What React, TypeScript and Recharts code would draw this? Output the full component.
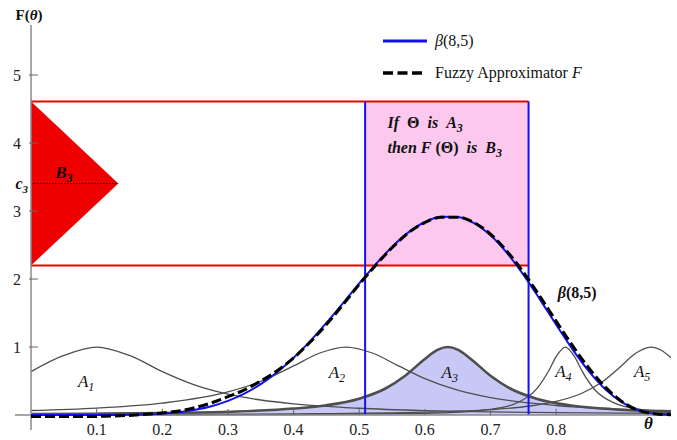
import {
  Area,
  ComposedChart,
  Legend,
  Line,
  ReferenceArea,
  ReferenceDot,
  ReferenceLine,
  XAxis,
  YAxis,
} from "recharts";

const serif = '"Liberation Serif", "Times New Roman", serif';
const blue = "#1212ee";
const red = "#ee0000";
const gray = "#4e4e4e";

// θ grid shared by the density and its fuzzy approximation
const thetaGrid = [
  0, 0.025, 0.05, 0.075, 0.1, 0.125, 0.15, 0.175, 0.2, 0.225, 0.25, 0.275, 0.3, 0.325,
  0.35, 0.375, 0.4, 0.425, 0.45, 0.475, 0.5, 0.525, 0.55, 0.575, 0.6, 0.625, 0.65, 0.675,
  0.7, 0.725, 0.75, 0.775, 0.8, 0.825, 0.85, 0.875, 0.9, 0.925, 0.95, 0.975,
];
const betaPdf = [
  0, 0, 0, 0, 0.0003, 0.001, 0.0035, 0.0092, 0.0208, 0.0417, 0.0765, 0.13, 0.208, 0.315,
  0.455, 0.63, 0.841, 1.084, 1.354, 1.641, 1.934, 2.216, 2.472, 2.686, 2.838, 2.917, 2.913,
  2.822, 2.642, 2.384, 2.065, 1.705, 1.329, 0.966, 0.643, 0.38, 0.189, 0.073, 0.017, 0.001,
];
const fuzzyF = [
  -0.02, -0.02, -0.02, -0.02, -0.02, -0.015, -0.005, 0.01, 0.03, 0.06, 0.11, 0.18, 0.27,
  0.37, 0.5, 0.65, 0.84, 1.07, 1.33, 1.62, 1.92, 2.2, 2.46, 2.68, 2.83, 2.91, 2.91, 2.83,
  2.66, 2.41, 2.1, 1.75, 1.38, 1.02, 0.69, 0.41, 0.2, 0.07, 0.02, 0.005,
];

// membership functions A1..A5
const a1X = [0, 0.05, 0.1, 0.15, 0.2, 0.25, 0.3, 0.35, 0.4, 0.5, 0.6, 0.7, 0.8, 0.9, 0.975];
const a1Y = [0.639, 0.876, 1, 0.876, 0.639, 0.44, 0.307, 0.221, 0.164, 0.1, 0.066, 0.047, 0.035, 0.027, 0.023];

const a2X = [0, 0.1, 0.2, 0.3, 0.35, 0.4, 0.44, 0.48, 0.52, 0.56, 0.6, 0.65, 0.7, 0.8, 0.9, 0.975];
const a2Y = [0.067, 0.103, 0.175, 0.339, 0.496, 0.722, 0.912, 1, 0.912, 0.722, 0.536, 0.365, 0.256, 0.14, 0.086, 0.064];

const a3X = [0, 0.1, 0.2, 0.3, 0.4, 0.45, 0.5, 0.54, 0.57, 0.6, 0.62, 0.635, 0.65, 0.67, 0.7, 0.73, 0.77, 0.82, 0.87, 0.93, 0.975];
const a3Y = [0.014, 0.02, 0.03, 0.049, 0.095, 0.144, 0.241, 0.39, 0.578, 0.825, 0.962, 1, 0.962, 0.825, 0.578, 0.39, 0.241, 0.144, 0.095, 0.062, 0.048];

const a4X = [0, 0.2, 0.4, 0.6, 0.7, 0.74, 0.77, 0.79, 0.8, 0.814, 0.828, 0.84, 0.86, 0.89, 0.93, 0.975];
const a4Y = [0.002, 0.003, 0.007, 0.025, 0.084, 0.178, 0.381, 0.674, 0.859, 1, 0.859, 0.638, 0.36, 0.171, 0.081, 0.044];

const a5X = [0, 0.2, 0.4, 0.6, 0.7, 0.76, 0.8, 0.84, 0.87, 0.9, 0.92, 0.944, 0.96, 0.975];
const a5Y = [0.006, 0.009, 0.017, 0.042, 0.08, 0.133, 0.2, 0.324, 0.486, 0.728, 0.9, 1, 0.953, 0.844];

const xTicks = [0.1, 0.2, 0.3, 0.4, 0.5, 0.6, 0.7, 0.8];
const yTicks = [1, 2, 3, 4, 5];
const c3 = 3.405;
const bBand = [2.2, 4.61]; // B3 support on F axis
const aBand = [0.509, 0.758]; // A3 band on θ axis
const b3Tip = 0.133;

const pts = (xs: number[], ys: number[]) => xs.map((x, i) => ({ x, y: ys[i] }));

const triangle = [
  { x: 0, y: [bBand[0], bBand[1]] },
  { x: b3Tip, y: [c3, c3] },
];

function YTick({ x, y, payload }: any) {
  if (payload.value === c3) {
    return (
      <text x={x + 7} y={y} dy="0.35em" textAnchor="end" fontFamily={serif} fontSize={16}
        fontWeight="bold" fontStyle="italic" fill="#111">
        c<tspan fontSize={11} dy={4}>3</tspan>
      </text>
    );
  }
  return (
    <text x={x} y={y} dy="0.35em" textAnchor="end" fontFamily={serif} fontSize={16} fill="#222">
      {payload.value}
    </text>
  );
}

const sub = (s: string) => (
  <tspan fontSize={12} dy={4} fontStyle="italic">{s}</tspan>
);

const notes = [
  { x: 0.084, y: 0.41, anchor: "middle", weight: "normal", size: 17, body: <><tspan fontStyle="italic">A</tspan>{sub("1")}</> },
  { x: 0.466, y: 0.545, anchor: "middle", weight: "normal", size: 17, body: <><tspan fontStyle="italic">A</tspan>{sub("2")}</> },
  { x: 0.638, y: 0.545, anchor: "middle", weight: "normal", size: 17, body: <><tspan fontStyle="italic">A</tspan>{sub("3")}</> },
  { x: 0.811, y: 0.56, anchor: "middle", weight: "normal", size: 17, body: <><tspan fontStyle="italic">A</tspan>{sub("4")}</> },
  { x: 0.931, y: 0.56, anchor: "middle", weight: "normal", size: 17, body: <><tspan fontStyle="italic">A</tspan>{sub("5")}</> },
  { x: 0.05, y: 3.485, anchor: "middle", weight: "bold", size: 17, body: <><tspan fontStyle="italic">B</tspan>{sub("3")}</> },
  { x: 0.832, y: 1.72, anchor: "middle", weight: "bold", size: 16, body: <><tspan fontStyle="italic">β</tspan>(8,5)</> },
  { x: 0.9405, y: -0.206, anchor: "middle", weight: "bold", size: 17, body: <tspan fontStyle="italic">θ</tspan> },
  { x: -0.003, y: 5.81, anchor: "middle", weight: "bold", size: 15, body: <>F(<tspan fontStyle="italic">θ</tspan>)</> },
  { x: 0.543, y: 4.22, anchor: "start", weight: "bold", size: 16, body: <><tspan fontStyle="italic">If</tspan>  Θ  <tspan fontStyle="italic">is</tspan>  <tspan fontStyle="italic">A</tspan>{sub("3")}</> },
  { x: 0.543, y: 3.853, anchor: "start", weight: "bold", size: 16, body: <><tspan fontStyle="italic">then</tspan> <tspan fontStyle="italic">F</tspan> (Θ)  <tspan fontStyle="italic">is</tspan>  <tspan fontStyle="italic">B</tspan>{sub("3")}</> },
];

function LegendBox() {
  return (
    <div style={{ fontFamily: serif, fontSize: 16, color: "#111" }}>
      <div style={{ display: "flex", alignItems: "center", height: 22 }}>
        <svg width={44} height={6}>
          <line x1={0} x2={44} y1={3} y2={3} stroke={blue} strokeWidth={3} />
        </svg>
        <span style={{ marginLeft: 8 }}>
          <i>β</i>(8,5)
        </span>
      </div>
      <div style={{ display: "flex", alignItems: "center", height: 22, marginTop: 10 }}>
        <svg width={44} height={6}>
          <line x1={0} x2={40} y1={3} y2={3} stroke="#000" strokeWidth={3.5} strokeDasharray="10 4.5" />
        </svg>
        <span style={{ marginLeft: 8 }}>
          Fuzzy Approximator <i>F</i>
        </span>
      </div>
    </div>
  );
}

export default function App() {
  return (
    <div style={{ position: "absolute", left: 0, top: 0, width: 677, height: 440, background: "#fff" }}>
      <ComposedChart width={677} height={440} margin={{ top: 25, right: 6, bottom: 0, left: 0 }}>
        <XAxis
          type="number"
          dataKey="x"
          domain={[-0.0244, 0.975]}
          allowDataOverflow
          ticks={xTicks}
          interval={0}
          tickFormatter={(v: number) => v.toFixed(1)}
          axisLine={false}
          tickLine={false}
          tickSize={0}
          tickMargin={-6}
          height={10}
          tick={{ fontFamily: serif, fontSize: 16, fill: "#222" }}
        />
        <YAxis
          type="number"
          domain={[-0.22, 5.735]}
          allowDataOverflow
          ticks={[...yTicks, c3]}
          interval={0}
          axisLine={false}
          tickLine={false}
          tickSize={0}
          tickMargin={-6}
          width={15}
          tick={<YTick />}
        />

        <ReferenceArea x1={aBand[0]} x2={aBand[1]} y1={bBand[0]} y2={bBand[1]} fill="#fcc8ee" fillOpacity={1} stroke="none" />

        <Area data={pts(a3X, a3Y)} dataKey="y" type="monotone" baseValue={0} stroke={gray} strokeWidth={2.6}
          fill="#c8c8f6" fillOpacity={1} isAnimationActive={false} />
        <Line data={pts(a1X, a1Y)} dataKey="y" type="monotone" stroke={gray} strokeWidth={1.3} dot={false} isAnimationActive={false} />
        <Line data={pts(a2X, a2Y)} dataKey="y" type="monotone" stroke={gray} strokeWidth={1.3} dot={false} isAnimationActive={false} />
        <Line data={pts(a4X, a4Y)} dataKey="y" type="monotone" stroke={gray} strokeWidth={1.3} dot={false} isAnimationActive={false} />
        <Line data={pts(a5X, a5Y)} dataKey="y" type="monotone" stroke={gray} strokeWidth={1.3} dot={false} isAnimationActive={false} />

        <Area data={triangle} dataKey="y" type="linear" stroke="none" fill={red} fillOpacity={1} isAnimationActive={false} />
        <ReferenceLine segment={[{ x: 0, y: c3 }, { x: b3Tip, y: c3 }]} stroke="#000" strokeWidth={1} strokeDasharray="1.5 1.5" />

        <ReferenceLine segment={[{ x: 0, y: bBand[1] }, { x: aBand[1], y: bBand[1] }]} stroke={red} strokeWidth={2} />
        <ReferenceLine segment={[{ x: 0, y: bBand[0] }, { x: aBand[1], y: bBand[0] }]} stroke={red} strokeWidth={2} />
        {aBand.map((v) => (
          <ReferenceLine key={v} segment={[{ x: v, y: 0 }, { x: v, y: bBand[1] }]} stroke={blue} strokeWidth={2} />
        ))}

        {/* axes through the origin */}
        <ReferenceLine segment={[{ x: 0, y: -0.22 }, { x: 0, y: 5.735 }]} stroke="#8a8a8a" strokeWidth={1.5} />
        <ReferenceLine y={0} stroke="#8a8a8a" strokeWidth={1.5} />
        {xTicks.map((v) => (
          <ReferenceLine key={"xt" + v} segment={[{ x: v, y: 0 }, { x: v, y: 0.09 }]} stroke="#666" strokeWidth={1} />
        ))}
        {yTicks.map((v) => (
          <ReferenceLine key={"yt" + v} segment={[{ x: -0.003, y: v }, { x: 0.0105, y: v }]} stroke="#666" strokeWidth={1} />
        ))}

        <Line data={pts(thetaGrid, betaPdf)} dataKey="y" type="monotone" stroke={blue} strokeWidth={2} dot={false} isAnimationActive={false} />
        <Line data={pts(thetaGrid, fuzzyF)} dataKey="y" type="monotone" stroke="#000" strokeWidth={3} strokeDasharray="10 4"
          dot={false} isAnimationActive={false} />

        {notes.map((n, i) => (
          <ReferenceDot
            key={"n" + i}
            x={n.x}
            y={n.y}
            r={0}
            ifOverflow="visible"
            shape={(p: any) => (
              <text x={p.cx} y={p.cy} textAnchor={n.anchor} fontFamily={serif} fontSize={n.size}
                fontWeight={n.weight} fill="#111" style={{ whiteSpace: "pre" }}>
                {n.body}
              </text>
            )}
          />
        ))}

        <Legend
          layout="vertical"
          align="center"
          verticalAlign="middle"
          wrapperStyle={{ left: 383, top: 30, width: 260 }}
          content={() => <LegendBox />}
        />
      </ComposedChart>
    </div>
  );
}
